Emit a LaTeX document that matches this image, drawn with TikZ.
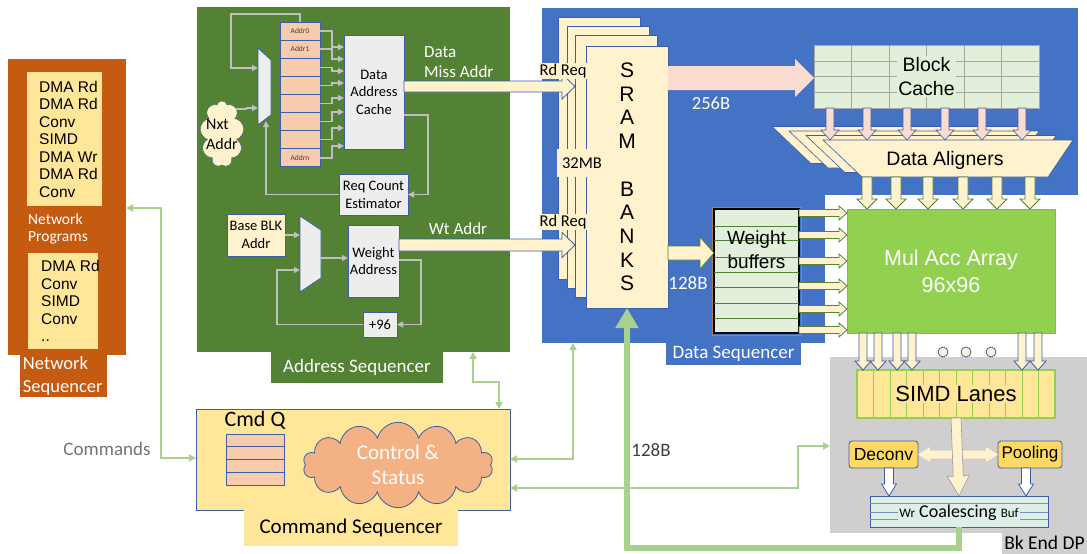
\documentclass[tikz,border=0pt]{standalone}
\usepackage{fontspec}
\setmainfont{Carlito}
\newfontfamily\hvfont{Liberation Sans}
\usepackage{tikz}
\usetikzlibrary{arrows.meta, positioning, shapes.geometric, shapes.symbols, calc}

\definecolor{netorange}{HTML}{C55A11}
\definecolor{progyel}{HTML}{FFE699}
\definecolor{addrgreen}{HTML}{548235}
\definecolor{dsblue}{HTML}{4472C4}
\definecolor{boxblue}{HTML}{3A5FA8}
\definecolor{boxgray}{HTML}{EDEDED}
\definecolor{regpink}{HTML}{F8CBAD}
\definecolor{paleyel}{HTML}{FFF2CC}
\definecolor{cachegreen}{HTML}{E2EFDA}
\definecolor{macgreen}{HTML}{92D050}
\definecolor{arrowpink}{HTML}{FADBCF}
\definecolor{bkgray}{HTML}{D0CECE}
\definecolor{poolyel}{HTML}{FFD966}
\definecolor{cmdyel}{HTML}{FFE699}
\definecolor{cloudorange}{HTML}{F4B183}
\definecolor{linkgreen}{HTML}{A9D18E}
\definecolor{linkgray}{HTML}{BFBFBF}
\definecolor{wrcblue}{HTML}{DDEFE6}

\newcommand\seqfont{\fontsize{19}{22}\selectfont}
% fat arrow: [style]{from}{to}{half shaft}{half head}{head length}
\newcommand\fatarrow[6][]{%
  \coordinate (fa-a) at (#2);
  \coordinate (fa-b) at (#3);
  \coordinate (fa-h) at ($(fa-b)!#6!(fa-a)$);
  \draw[#1] ($(fa-a)!#4!90:(fa-b)$) -- ($(fa-h)!#4!90:(fa-b)$)
    -- ($(fa-h)!#5!90:(fa-b)$) -- (fa-b) -- ($(fa-h)!#5!-90:(fa-b)$)
    -- ($(fa-h)!#4!-90:(fa-b)$) -- ($(fa-a)!#4!-90:(fa-b)$) -- cycle;}

\begin{document}
\begin{tikzpicture}[
  x=1pt, y=-1pt,
  >=Latex,
  region/.style={anchor=north west, inner sep=0pt, outer sep=0pt},
  seqname/.style={region, text=white, font=\seqfont},
  plainbox/.style={region, draw=boxblue, line width=0.8pt, align=center},
  graybox/.style={plainbox, fill=boxgray, font=\fontsize{14.5}{17.5}\selectfont},
  regcell/.style={plainbox, fill=regpink, minimum width=40, minimum height=18.1, font=\fontsize{7.5}{8}\selectfont, text=black!75},
  sramlayer/.style={plainbox, fill=paleyel, minimum width=82, minimum height=262},
  sramtag/.style={fill=paleyel, inner sep=1pt, font=\fontsize{16.5}{18}\selectfont},
  progtext/.style={anchor=west, align=left, inner sep=2pt, font=\hvfont\fontsize{15.5}{17.5}\selectfont},
  whitelabel/.style={text=white, align=left, inner sep=0pt, font=\fontsize{17}{20}\selectfont},
  muxshape/.style={draw=boxblue, fill=boxgray, line width=0.8pt},
  glink/.style={draw=linkgray, line width=1.5pt, -{Triangle[length=6pt,width=6pt]}},
  greenlink/.style={draw=linkgreen, line width=2pt, {Triangle[length=7pt,width=7pt]}-{Triangle[length=7pt,width=7pt]}},
  bus/.style={draw=linkgreen, line width=6pt, -{Triangle[length=20pt,width=22pt]}},
  fatbar/.style={fill=paleyel, draw=boxblue, line width=0.8pt},
  fatpink/.style={fill=arrowpink, draw=boxblue, line width=0.6pt},
  fatyel/.style={fill=paleyel, draw=addrgreen, line width=0.8pt},
  fatwhite/.style={fill=white, draw=boxblue, line width=0.8pt},
  aligner/.style={fill=paleyel, draw=boxblue, line width=0.6pt}
]
\useasboundingbox (0,0) rectangle (1087,554);

% regions
\node[region, fill=netorange, minimum width=118, minimum height=296] (netseq) at (8,59) {};
\node[seqname, fill=netorange, minimum width=87, minimum height=42, text width=81, inner xsep=3pt, align=left, font=\fontsize{18.5}{22.5}\selectfont] (netname) at (20,355) {Network\\Sequencer};
\node[region, fill=addrgreen, minimum width=313, minimum height=345] (addrseq) at (197,7) {};
\node[seqname, fill=addrgreen, minimum width=172, minimum height=31] (addrname) at (271,352) {Address Sequencer};
\node[region, fill=dsblue, minimum width=283, minimum height=335] (dataseq) at (542,8) {};
\fill[dsblue] (dataseq.north east) rectangle (1078,195);
\node[seqname, fill=dsblue, minimum width=135, minimum height=22] (dataname) at (666,343) {Data Sequencer};
\node[region, fill=bkgray, minimum width=257, minimum height=176] (bkend) at (830,357) {};
\node[region, fill=bkgray, font=\fontsize{19.5}{22}\selectfont, minimum width=85, minimum height=21.5] (bkname) at (1002,532.5) {Bk End DP};
\node[region, fill=cmdyel, draw=boxblue, line width=0.8pt, minimum width=314, minimum height=101] (cmdseq) at (196,409) {};
\node[region, fill=cmdyel, minimum width=214, minimum height=36.5, font=\fontsize{21}{24}\selectfont] (cmdname) at (244,509.5) {Command Sequencer};

% network sequencer
\node[region, fill=progyel, minimum width=75, minimum height=134] (prog1) at (27,72) {};
\node[progtext] (prog1txt) at ([xshift=10pt]prog1.west) {DMA Rd\\DMA Rd\\Conv\\SIMD\\DMA Wr\\DMA Rd\\Conv};
\node[whitelabel, anchor=west, font=\fontsize{15.5}{17}\selectfont] (netprog) at (28,229) {Network\\Programs};
\node[region, fill=progyel, minimum width=70, minimum height=96] (prog2) at (28,253) {};
\node[progtext] (prog2txt) at ([xshift=11pt]prog2.west) {DMA Rd\\Conv\\SIMD\\Conv\\..};

% address sequencer
\foreach \i/\lab in {0/Addr0,1/Addr1,2/{},3/{},4/{},5/{},6/{},7/Addrn}
  \node[regcell] (reg\i) at (280,{22+18.1*\i}) {\lab};
\node[region, minimum width=13, minimum height=77] (mux1) at (258,48) {};
\draw[muxshape] (mux1.north west) -- ([yshift=-12pt]mux1.north east) -- ([yshift=10pt]mux1.south east) -- (mux1.south west) -- cycle;
\node[cloud, cloud puffs=9, cloud ignores aspect, draw=boxblue, fill=paleyel, minimum width=44, minimum height=66, inner sep=0pt] (nxt) at (222,134) {};
\node[align=left, inner sep=0pt, font=\fontsize{16}{20}\selectfont] (nxttxt) at (nxt.center) {Nxt\\Addr};
\node[graybox, minimum width=60, minimum height=114] (dac) at (344,35) {Data\\Address\\Cache};
\node[graybox, minimum width=69, minimum height=41, font=\fontsize{14.5}{18}\selectfont] (req) at (339,174) {Req Count\\Estimator};

\foreach \i/\t in {0/47,1/59,2/71,3/83,4/98,5/112,6/128,7/146}
  \draw[glink] (reg\i.east) -- ++(12,0) |- (dac.west |- 0,\t);
\draw[glink] (reg0.north) -- ++(0,-8) -| (231,68) -- (mux1.west |- 0,68);
\draw[glink] (nxt.60) -- ++(10,0) |- (mux1.west |- 0,108);
\draw[glink] (dac.east |- 0,115) -- ++(24,0) |- (req.east);
\draw[glink] (req.west) -| ([xshift=1.5pt,yshift=4pt]mux1.south);
\node[whitelabel, anchor=west] (misslbl) at (424,62) {Data\\Miss Addr};

\node[plainbox, fill=paleyel, minimum width=58, minimum height=42, font=\fontsize{14.5}{18}\selectfont] (base) at (227,214) {Base BLK\\Addr};
\node[region, minimum width=21, minimum height=76] (mux2) at (300,216) {};
\draw[muxshape] (mux2.north west) -- ([yshift=-14pt]mux2.north east) -- ([yshift=14pt]mux2.south east) -- (mux2.south west) -- cycle;
\node[graybox, minimum width=51, minimum height=72] (wa) at (348,225) {Weight\\Address};
\node[graybox, minimum width=34, minimum height=25] (p96) at (363,312) {+96};
\draw[glink] (base.east) -- (mux2.west |- base.east);
\draw[glink] (mux2.east |- 0,258) -- (wa.west |- 0,258);
\draw[glink] (wa.east |- 0,260) -- ++(22,0) |- (p96.east);
\draw[glink] (p96.west) -| (277,270) -- (mux2.west |- 0,270);
\node[whitelabel] (wtlbl) at (458,229) {Wt Addr};

% data sequencer
\foreach \i/\x/\y in {1/558/17, 2/567/26, 3/575/35}
  \node[sramlayer] (sram\i) at (\x,\y) {};
\node[sramlayer, font=\hvfont\fontsize{21}{23.7}\selectfont] (sram) at (586,46) {S\\R\\A\\M\\\mbox{}\\B\\A\\N\\K\\S};
\fatarrow[fatbar]{dac.east |- 0,86.5}{sram3.west |- 0,86.5}{5.5pt}{12.5pt}{13pt}
\fatarrow[fatbar]{wa.east |- 0,245}{sram3.west |- 0,245}{6pt}{12.5pt}{13pt}
\node[sramtag] (rdreq1) at (563,71) {Rd Req};
\node[sramtag] (rdreq2) at (563,222) {Rd Req};
\node[sramtag, minimum width=50, minimum height=28] (mb) at (582,163) {32MB};

\node[region, fill=cachegreen, draw=gray!70, line width=1pt, minimum width=225, minimum height=63] (bc) at (814,45) {};
\foreach \k in {1,...,5}
  \draw[gray!70] ([xshift=\k*37.5pt]bc.north west) -- ([xshift=\k*37.5pt]bc.south west);
\foreach \k in {1,2,3}
  \draw[gray!70] ([yshift=-\k*15.75pt]bc.north west) -- ([yshift=-\k*15.75pt]bc.north east);
\node[fill=cachegreen, inner sep=1pt, align=center, font=\hvfont\fontsize{19.5}{24}\selectfont] (bctxt) at (bc.center) {Block\\Cache};
\fatarrow[fill=arrowpink, draw=none]{sram.east |- 0,78}{bc.west |- 0,78}{12pt}{19pt}{19pt}
\node[text=white, font=\fontsize{18.5}{20}\selectfont] (lbl256) at (711,103) {256B};

\foreach \k in {3,2,1}
  \draw[aligner, shift={(-17*\k,-4.5*\k)}] (823,140) -- (1073,140) -- (1048,177) -- (862,177) -- cycle;
\draw[aligner] (823,140) -- (1073,140) -- (1048,177) -- (862,177) -- cycle;
\coordinate (datop) at (948,140);
\coordinate (dabot) at (955,177);
\node[font=\hvfont\fontsize{19.5}{22}\selectfont] (da) at (945,160) {Data Aligners};
\foreach \x in {830,867,907,945,982,1022}
  {\fatarrow[fatpink]{bc.south -| \x,0}{datop -| \x,0}{4pt}{9pt}{10pt}}

\node[plainbox, fill=macgreen, draw=boxblue!60, minimum width=208, minimum height=124, text=white, font=\hvfont\fontsize{21.5}{27}\selectfont] (mac) at (847,209) {Mul Acc Array\\96x96};
\foreach \x in {867,896,928,963,997,1030}
  {\fatarrow[fatyel]{dabot -| \x,0}{mac.north -| \x,0}{5pt}{10pt}{10pt}}

\node[region, fill=cachegreen, draw=black, line width=1.6pt, minimum width=85, minimum height=124] (wb) at (714,209) {};
\draw[brown!60!gray, line width=1pt] ([shift={(-2,-2)}]wb.north west) rectangle ([shift={(2,2)}]wb.south east);
\foreach \yy in {226,240,257,272,287,303,318}
  \draw[addrgreen, line width=1pt] (wb.west |- 0,\yy) -- (wb.east |- 0,\yy);
\node[align=center, inner sep=0pt, font=\hvfont\fontsize{19}{24}\selectfont] (wbtxt) at (wb.north |- 0,250) {Weight\\buffers};
\fatarrow[fatyel]{sram.east |- 0,253}{wb.west |- 0,253}{7pt}{16pt}{14pt}
\node[text=white, font=\fontsize{19}{20}\selectfont] (lbl128w) at (688,283) {128B};
\foreach \yy in {213,235,261,286,309,330}
  {\fatarrow[fatyel]{wb.east |- 0,\yy}{mac.west |- 0,\yy}{3.5pt}{7pt}{8pt}}

% back end datapath
\node[region, fill=progyel, draw=macgreen, line width=1.5pt, minimum width=198, minimum height=48] (simd) at (857,370) {};
\foreach \k in {1,...,11}
  \draw[macgreen, line width=0.8pt] ([xshift=\k*16.5pt]simd.north west) -- ([xshift=\k*16.5pt]simd.south west);
\node[fill=progyel, inner sep=1pt, font=\hvfont\fontsize{22}{24}\selectfont] (simdtxt) at (simd.center) {SIMD Lanes};
\foreach \x in {863,878,897,912,1022,1038}
  {\fatarrow[fatbar]{mac.south -| \x,0}{simd.north -| \x,0}{4pt}{8pt}{9pt}}
\foreach \x/\n in {943/1,966/2,991/3}
  \node[circle, draw=boxblue, fill=paleyel, line width=0.8pt, minimum size=10, inner sep=0pt] (dot\n) at (\x,352) {};

\node[plainbox, rounded corners=3pt, fill=poolyel, minimum width=69, minimum height=27, font=\hvfont\fontsize{17.5}{20}\selectfont] (deconv) at (849,441) {Deconv};
\node[plainbox, rounded corners=3pt, fill=poolyel, minimum width=64, minimum height=27, font=\hvfont\fontsize{17}{20}\selectfont] (pooling) at (998,441) {Pooling};
\node[region, fill=wrcblue, draw=boxblue, line width=0.8pt, minimum width=178, minimum height=31] (wrc) at (870,496) {};
\foreach \yy in {7,16,23}
  \draw[boxblue!70] ([yshift=-\yy pt]wrc.north west) -- ([yshift=-\yy pt]wrc.north east);
\node[fill=wrcblue, inner sep=1pt, font=\fontsize{18}{20}\selectfont] (wrctxt) at ([yshift=-1pt]wrc.center) {{\fontsize{13}{14}\selectfont Wr} Coalescing {\fontsize{13}{14}\selectfont Buf}};
\coordinate (xc) at (simd.south |- deconv.east);
\fatarrow[fill=paleyel, draw=none]{xc}{deconv.east}{4pt}{7.5pt}{12pt}
\fatarrow[fill=paleyel, draw=none]{xc}{pooling.west}{4pt}{7.5pt}{12pt}
\fatarrow[fill=paleyel, draw=gray!80, line width=0.6pt]{simd.south}{wrc.north}{5pt}{11pt}{20pt}
\fatarrow[fatwhite]{deconv.south -| 889,0}{wrc.north -| 889,0}{4.5pt}{7.5pt}{12pt}
\fatarrow[fatwhite]{pooling.south -| 1026,0}{wrc.north -| 1026,0}{4.5pt}{7.5pt}{12pt}

% command sequencer
\foreach \i in {0,...,3}
  \node[plainbox, fill=regpink, minimum width=58, minimum height=12.75] (cq\i) at (226,{434+12.75*\i}) {};
\node[above=4pt of cq0, inner sep=0pt, font=\fontsize{22}{24}\selectfont] (cmdq) {Cmd Q};
\node[cloud, cloud puffs=14, cloud ignores aspect, draw=boxblue, fill=cloudorange, line width=0.8pt, minimum width=190, minimum height=64, text=white, align=center, font=\fontsize{21}{25}\selectfont] (ctrl) at (398,465) {Control \&\\Status};

% links
\draw[greenlink] (netseq.east |- 0,208) -| (161,458) -- (cmdseq.west |- 0,458);
\node[text=black!55, font=\fontsize{19}{20}\selectfont] (cmds) at (107,449) {Commands};
\draw[greenlink] (addrseq.south -| 473,0) -- (473,382) -| (cmdseq.north -| 499,0);
\draw[greenlink] (dataseq.south -| 573,0) |- (cmdseq.east |- 0,459);
\draw[greenlink] (cmdseq.east |- 0,488) -| (798,446) -- (bkend.west |- 0,446);
\draw[bus] (wrc.south) |- ($(sram.south)+(0,240)$) -- (sram.south);
\node[text=black!75, font=\fontsize{19}{20}\selectfont] (lbl128) at (651,450) {128B};
\end{tikzpicture}
\end{document}
